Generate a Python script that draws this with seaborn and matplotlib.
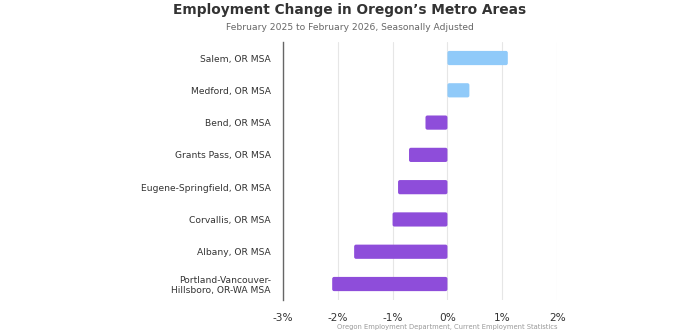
import matplotlib
matplotlib.use("Agg")
import matplotlib.pyplot as plt
from matplotlib.patches import FancyBboxPatch
import seaborn as sns
import pandas as pd

areas = ["Salem, OR MSA", "Medford, OR MSA", "Bend, OR MSA", "Grants Pass, OR MSA",
         "Eugene-Springfield, OR MSA", "Corvallis, OR MSA", "Albany, OR MSA",
         "Portland-Vancouver-\nHillsboro, OR-WA MSA"]
changes = [1.1, 0.4, -0.4, -0.7, -0.9, -1.0, -1.7, -2.1]
x_ticks = [-3, -2, -1, 0, 1, 2]
x_tick_labels = ["-3%", "-2%", "-1%", "0%", "1%", "2%"]

pos_color = "#90CAF9"
neg_color = "#8E4DDA"

df = pd.DataFrame({"area": areas, "change": changes})
df["sign"] = ["pos" if v >= 0 else "neg" for v in changes]

sns.set_theme(style="white")
plt.rcParams['font.family'] = ['DejaVu Sans']

fig = plt.figure(figsize=(7, 3.35), dpi=100)
ax = fig.add_axes([0.404, 0.104, 0.392, 0.771])

sns.barplot(data=df, y="area", x="change", hue="sign", order=areas,
            palette={"pos": pos_color, "neg": neg_color}, width=0.44,
            legend=False, ax=ax, saturation=1, orient="h")

# round the bar corners slightly
for p in list(ax.patches):
    x0, y0 = p.get_x(), p.get_y()
    w, h = p.get_width(), p.get_height()
    if w < 0:
        x0, w = x0 + w, -w
    fb = FancyBboxPatch((x0, y0), w, h, boxstyle="round,pad=0,rounding_size=0.035",
                        mutation_aspect=1.7, facecolor=p.get_facecolor(),
                        edgecolor="none", zorder=p.get_zorder())
    p.remove()
    ax.add_patch(fb)

ax.set_xlim(-3, 2)
ax.set_ylim(7.5, -0.5)
ax.set_xticks(x_ticks)
ax.set_xticklabels(x_tick_labels)
ax.set_xlabel("")
ax.set_ylabel("")
ax.grid(axis="x", color="#e6e6e6", linewidth=0.8)
ax.set_axisbelow(True)
for s in ["top", "right", "bottom"]:
    ax.spines[s].set_visible(False)
ax.spines["left"].set_color("#666666")
ax.spines["left"].set_linewidth(1.0)
ax.tick_params(axis="both", length=0, colors="#333333")
ax.tick_params(axis="x", pad=9, labelsize=7.6)
ax.tick_params(axis="y", pad=8.5, labelsize=6.6)

fig.text(0.5, 0.970, "Employment Change in Oregon\u2019s Metro Areas", ha="center", va="center",
         fontsize=9.9, fontweight="bold", color="#333333")
fig.text(0.5, 0.919, "February 2025 to February 2026, Seasonally Adjusted", ha="center",
         va="center", fontsize=6.6, color="#666666")
fig.text(0.796, 0.024, "Oregon Employment Department, Current Employment Statistics",
         ha="right", va="center", fontsize=4.9, color="#999999")

fig.savefig("out.png", dpi=100)
